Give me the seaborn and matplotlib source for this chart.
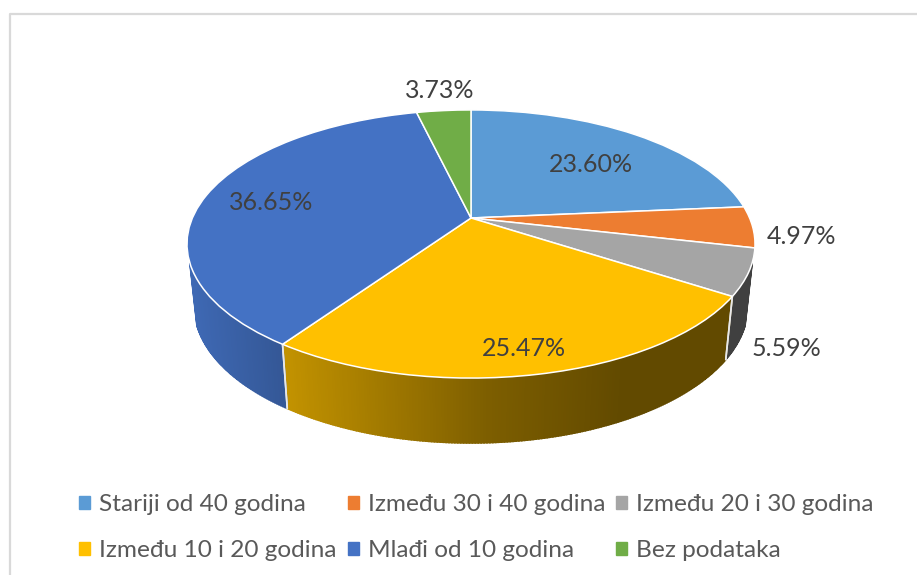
import numpy as np
import matplotlib
matplotlib.use('Agg')
import matplotlib.pyplot as plt
from matplotlib.patches import Patch
from matplotlib.transforms import Transform
import seaborn as sns

categories = ['Stariji od 40 godina', 'Između 30 i 40 godina', 'Između 20 i 30 godina',
              'Između 10 i 20 godina', 'Mlađi od 10 godina', 'Bez podataka']
shares = [23.60, 4.97, 5.59, 25.47, 36.65, 3.73]
colours = ['#5B9BD5', '#ED7D31', '#A5A5A5', '#FFC000', '#4472C4', '#70AD47']
label_pos = [(591, 164), (801, 236), (786, 349), (524, 349), (271, 202), (440, 91)]

sns.set_theme(style='white')
plt.rcParams['font.family'] = ['Lato', 'DejaVu Sans']


# perspective of the tilted disc: unit circle -> pixels
class Tilt(Transform):
    input_dims = 2
    output_dims = 2

    def __init__(self, a, b, k, cx, cy):
        super().__init__()
        self.a, self.b, self.k, self.cx, self.cy = a, b, k, cx, cy

    def transform_non_affine(self, values):
        u, v = values[:, 0], values[:, 1]
        d = 1 + self.k * v
        return np.column_stack([self.cx + self.a * u / d, self.cy - self.b * v / d])


top = Tilt(278.6, 129.0, 0.194, 471, 218)
bottom = Tilt(271.6, 131.8, 0.194, 471, 279.4)

fig, ax = plt.subplots(figsize=(9.17, 5.75), dpi=100)
fig.subplots_adjust(0, 0, 1, 1)

wedges, _ = ax.pie(shares, colors=sns.color_palette(colours), startangle=90, counterclock=False,
                   wedgeprops={'edgecolor': 'white', 'linewidth': 1.1, 'zorder': 5})
for w in wedges:
    w.set_transform(top + ax.transData)
    w.set_clip_on(False)

ax.set_aspect('auto')
ax.set_xlim(0, 917)
ax.set_ylim(575, 0)
ax.axis('off')

# side wall, cut into thin strips so it can be shaded from left to right
for w, c in zip(wedges, colours):
    lo, hi = max(w.theta1, -161), min(w.theta2, -19)
    if lo >= hi:
        continue
    t = np.radians(np.linspace(lo, hi, int((hi - lo) * 2) + 2))
    ring = np.column_stack([np.cos(t), np.sin(t)])
    up, down = top.transform(ring), bottom.transform(ring)
    base = np.array(matplotlib.colors.to_rgb(c))
    for i in range(len(t) - 1):
        xm = (up[i, 0] + up[i + 1, 0]) / 2
        shade = np.interp(xm, [190, 287, 490, 625], [0.92, 0.76, 0.49, 0.385])
        poly = np.vstack([up[i], up[i + 1], down[i + 1], down[i]])
        ax.fill(poly[:, 0], poly[:, 1], color=base * shade, lw=1.2, zorder=2)
    for edge in (lo, hi):
        if edge in (-161, -19):
            continue
        p = np.radians(edge)
        pt = np.array([[np.cos(p), np.sin(p)]])
        a, b = top.transform(pt)[0], bottom.transform(pt)[0]
        ax.plot([a[0], b[0]], [a[1], b[1]], color='#E8E8E8', lw=1.2, zorder=3)

for v, (x, y) in zip(shares, label_pos):
    ax.text(x, y, f'{v:.2f}%', ha='center', va='center', fontsize=18, color='#404040', zorder=6)

# chart frame, only left and top are inside the crop
ax.plot([9.5, 9.5, 917], [575, 13.5, 13.5], color='#D9D9D9', lw=1.6, clip_on=False)

handles = [Patch(color=c, label=n) for c, n in zip(colours, categories)]
order = [0, 3, 1, 4, 2, 5]
ax.legend([handles[i] for i in order], [categories[i] for i in order], ncol=3, frameon=False,
          loc='lower left', bbox_to_anchor=(79 / 917, 14 / 575), bbox_transform=fig.transFigure,
          fontsize=17.6, labelcolor='#595959', handlelength=0.45, handleheight=0.45, handletextpad=0.37,
          columnspacing=0.45, labelspacing=1.03, borderpad=0, borderaxespad=0)

fig.savefig('out.png', dpi=100)
